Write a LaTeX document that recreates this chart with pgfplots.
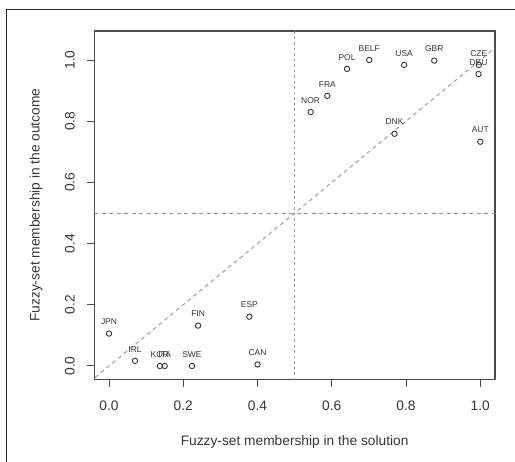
\documentclass[border=0pt]{standalone}
\usepackage{pgfplots}
\pgfplotsset{compat=1.18}
\usepackage{fontspec}
\setmainfont{Liberation Sans}
\definecolor{axc}{RGB}{75,75,75}
\definecolor{txc}{RGB}{55,55,55}
\definecolor{refc}{RGB}{150,150,150}
\begin{document}
\begin{tikzpicture}
\useasboundingbox (0,0) rectangle (515bp,462bp);
\fill[white] (0,0) rectangle (515bp,462bp);
\draw[black!85, line width=1.4bp] (6.7bp,0) -- (6.7bp,452.7bp) -- (515bp,452.7bp);
\begin{axis}[
  at={(94.3bp,82.7bp)}, anchor=south west,
  scale only axis, width=400.7bp, height=348.3bp,
  xmin=-0.0396, xmax=1.0396, ymin=-0.0435, ymax=1.0948,
  axis line style={axc, line width=1.1bp},
  xtick={0,0.2,0.4,0.6,0.8,1}, ytick={0,0.2,0.4,0.6,0.8,1},
  xtick pos=bottom, ytick pos=left,
  tick align=outside, major tick length=7.5bp,
  tick style={axc, line width=1bp},
  /pgf/number format/assume math mode=true,
  /pgf/number format/.cd, fixed, fixed zerofill, precision=1, /pgfplots/.cd,
  tick label style={font=\fontsize{13.8}{16}\selectfont, text=txc},
  xticklabel style={anchor=center},
  yticklabel style={anchor=center, rotate=90},
  xticklabel shift=19bp, yticklabel shift=17bp,
  xlabel={Fuzzy-set membership in the solution},
  ylabel={Fuzzy-set membership in the outcome},
  label style={font=\fontsize{13.8}{16}\selectfont, text=txc},
  xlabel style={at={(axis description cs:0.5,0)}, anchor=center, yshift=-62.4bp},
  ylabel style={at={(axis description cs:0,0.5)}, anchor=center, rotate=0, yshift=58.3bp},
  clip=true,
]
\addplot[refc, line width=0.9bp, dash pattern=on 4bp off 3.5bp] coordinates {(-0.1,-0.1) (1.2,1.2)};
\addplot[refc, line width=0.9bp, dash pattern=on 4bp off 3.5bp] coordinates {(-0.1,0.5) (1.2,0.5)};
\addplot[refc, line width=0.9bp, dash pattern=on 2.5bp off 3bp] coordinates {(0.5,-0.1) (0.5,1.2)};
\addplot[only marks, mark=o, mark size=2.7bp, mark options={txc, line width=0.9bp},
  point meta=explicit symbolic, nodes near coords,
  every node near coord/.append style={font=\fontsize{8.5}{10}\selectfont, text=txc, anchor=center, yshift=11.7bp}]
  table[x=x, y=y, meta=lab] {
x y lab
0.0 0.106 JPN
0.07 0.017 IRL
0.137 0.0 KOR
0.15 0.0 ITA
0.2235 0.0 SWE
0.40 0.005 CAN
0.24 0.132 FIN
0.378 0.161 ESP
0.543 0.830 NOR
0.588 0.883 FRA
0.641 0.971 POL
0.701 1.0 BELF
0.795 0.984 USA
0.876 0.998 GBR
0.996 0.984 CZE
0.995 0.954 DEU
0.769 0.759 DNK
1.0 0.733 AUT
};
\end{axis}
\end{tikzpicture}
\end{document}
